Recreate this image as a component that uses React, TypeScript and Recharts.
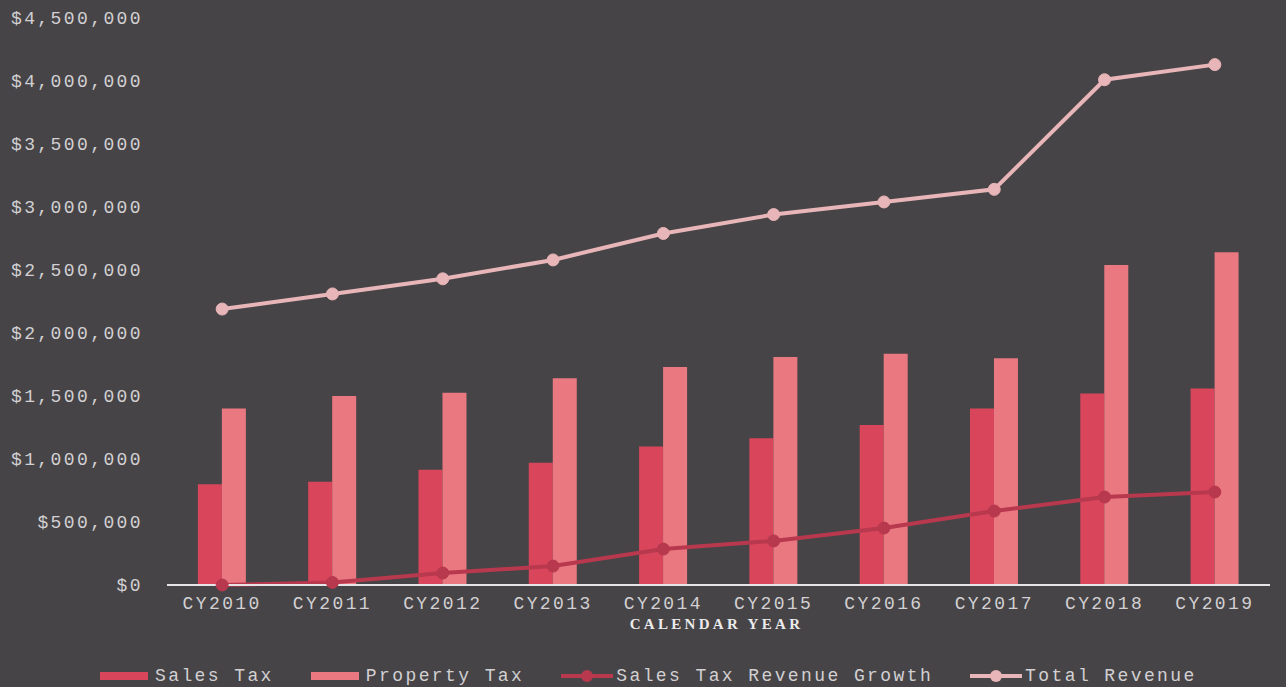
import React from "react";
import { ComposedChart, Bar, Line, XAxis, YAxis } from "recharts";

// values
const YEARS = ["CY2010", "CY2011", "CY2012", "CY2013", "CY2014", "CY2015", "CY2016", "CY2017", "CY2018", "CY2019"];
const SALES_TAX = [800000, 820000, 915000, 970000, 1100000, 1165000, 1270000, 1400000, 1520000, 1560000];
const PROPERTY_TAX = [1400000, 1500000, 1525000, 1640000, 1730000, 1810000, 1835000, 1800000, 2540000, 2640000];
const SALES_GROWTH = [0, 20000, 95000, 150000, 285000, 350000, 452000, 587000, 698000, 738000];
const TOTAL_REVENUE = [2190000, 2310000, 2430000, 2580000, 2790000, 2940000, 3040000, 3140000, 4010000, 4130000];
const Y_TICKS = [0, 500000, 1000000, 1500000, 2000000, 2500000, 3000000, 3500000, 4000000, 4500000];

const data = YEARS.map((year, i) => ({
  year,
  salesTax: SALES_TAX[i],
  propertyTax: PROPERTY_TAX[i],
  growth: SALES_GROWTH[i],
  total: TOTAL_REVENUE[i],
}));

const BG = "#464447";
const TEXT = "#d2d0d2";
const MONO = "'Liberation Mono', 'DejaVu Sans Mono', monospace";

const SERIES = [
  { name: "Sales Tax", color: "#d9465c", kind: "bar" },
  { name: "Property Tax", color: "#ea7880", kind: "bar" },
  { name: "Sales Tax Revenue Growth", color: "#b8384e", kind: "line" },
  { name: "Total Revenue", color: "#e8b5b8", kind: "line" },
];

const fmtMoney = (v: number) => "$" + v.toLocaleString("en-US");

const tickStyle = { fill: TEXT, fontSize: 18, fontFamily: MONO, letterSpacing: 2.4 };

const AxisTitle = (props: any) => {
  const { viewBox } = props;
  return (
    <text
      x={viewBox.x + viewBox.width / 2 - 2}
      y={viewBox.y + 44}
      textAnchor="middle"
      fill="#ecebec"
      fontSize={15}
      fontWeight="bold"
      fontFamily="'Liberation Serif', serif"
      letterSpacing={3.3}
    >
      CALENDAR YEAR
    </text>
  );
};

const LegendRow = () => (
  <div
    style={{
      position: "absolute",
      left: 100,
      top: 666,
      display: "flex",
      alignItems: "center",
      fontFamily: MONO,
      fontSize: 18,
      letterSpacing: 2.4,
      color: TEXT,
      whiteSpace: "nowrap",
    }}
  >
    {SERIES.map((s, i) => (
      <div key={s.name} style={{ display: "flex", alignItems: "center", marginLeft: i === 0 ? 0 : 37 }}>
        <svg width={52} height={14} style={{ marginRight: 3 }}>
          {s.kind === "bar" ? (
            <rect x={0} y={3} width={48} height={8} fill={s.color} />
          ) : (
            <>
              <line x1={0} y1={7} x2={52} y2={7} stroke={s.color} strokeWidth={4} />
              <circle cx={26} cy={7} r={6} fill={s.color} />
            </>
          )}
        </svg>
        <span>{s.name}</span>
      </div>
    ))}
  </div>
);

export default function App() {
  return (
    <div style={{ position: "absolute", left: 0, top: 0, width: 1286, height: 687, background: BG, overflow: "hidden" }}>
      <ComposedChart
        width={1286}
        height={687}
        data={data}
        margin={{ top: 18, right: 16, left: 0, bottom: 42 }}
        barCategoryGap="28%"
        barGap={0}
      >
        <XAxis
          dataKey="year"
          height={60}
          tick={tickStyle}
          tickLine={false}
          tickSize={0}
          tickMargin={11}
          axisLine={{ stroke: "#e6e4e6", strokeWidth: 2 }}
          interval={0}
          label={<AxisTitle />}
        />
        <YAxis
          width={167}
          domain={[0, 4500000]}
          ticks={Y_TICKS}
          tickFormatter={fmtMoney}
          tick={tickStyle}
          tickLine={false}
          tickSize={0}
          tickMargin={24}
          axisLine={false}
          interval={0}
        />
        <Bar dataKey="salesTax" name="Sales Tax" fill={SERIES[0].color} isAnimationActive={false} />
        <Bar dataKey="propertyTax" name="Property Tax" fill={SERIES[1].color} isAnimationActive={false} />
        <Line
          dataKey="growth"
          name="Sales Tax Revenue Growth"
          stroke={SERIES[2].color}
          strokeWidth={4}
          dot={{ r: 6, fill: SERIES[2].color, stroke: SERIES[2].color, strokeWidth: 1 }}
          isAnimationActive={false}
        />
        <Line
          dataKey="total"
          name="Total Revenue"
          stroke={SERIES[3].color}
          strokeWidth={4}
          dot={{ r: 6, fill: SERIES[3].color, stroke: SERIES[3].color, strokeWidth: 1 }}
          isAnimationActive={false}
        />
      </ComposedChart>
      <LegendRow />
    </div>
  );
}
